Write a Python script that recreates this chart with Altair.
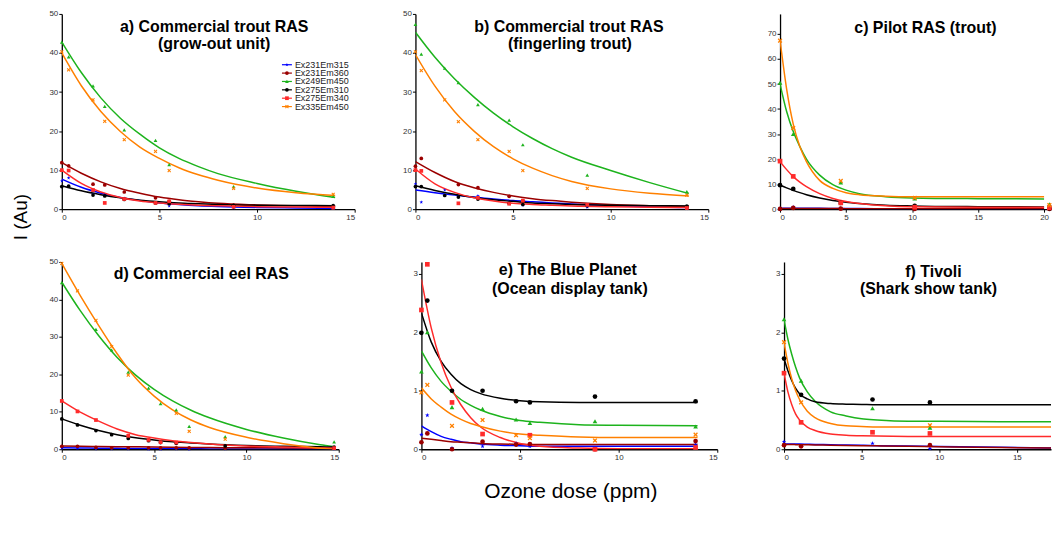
import altair as alt
import pandas as pd

SERIES = ["Ex231Em315", "Ex231Em360", "Ex249Em450", "Ex275Em310", "Ex275Em340", "Ex335Em450"]
COLORS = ["#0000FF", "#9B0000", "#1DB31D", "#000000", "#FF2B2B", "#FF8000"]
STAR = "M0,-1L0.235,-0.324L0.951,-0.309L0.38,0.124L0.588,0.809L0,0.4L-0.588,0.809L-0.38,0.124L-0.951,-0.309L-0.235,-0.324Z"
XMARK = "M-1,-0.6L-0.6,-1L0,-0.4L0.6,-1L1,-0.6L0.4,0L1,0.6L0.6,1L0,0.4L-0.6,1L-1,0.6L-0.4,0Z"
SHAPES = [STAR, "circle", "triangle-up", "circle", "square", XMARK]

# ---------------- a) Commercial trout RAS (grow-out unit)
A_DOSE = [0, 0.35, 1.6, 2.2, 3.2, 4.8, 5.5, 8.8, 13.9]
A_POINTS = {
    "Ex231Em315": [7.2, 8.0, 3.8, 3.7, 2.8, 1.6, 0.8, 0.3, 0.2],
    "Ex231Em360": [11.9, 11.1, 6.4, 6.2, 4.4, 2.9, 2.0, 1.0, 0.7],
    "Ex249Em450": [42.8, 39.0, 31.6, 26.3, 20.3, 17.6, 11.4, 5.8, 3.3],
    "Ex275Em310": [5.8, 5.9, 3.6, 3.4, 2.5, 1.6, 1.4, 1.0, 0.9],
    "Ex275Em340": [10.0, 9.9, 4.9, 1.6, 2.6, 1.6, 2.0, 0.6, 0.4],
    "Ex335Em450": [40.3, 35.7, 28.0, 22.5, 17.8, 14.8, 9.9, 5.3, 3.8],
}
A_FIT_DOSE = [0, 1, 2, 3, 4, 5, 6, 7, 8, 10, 12, 14]
A_FIT = {
    "Ex231Em315": [7.7, 5.6, 4.1, 3.0, 2.2, 1.6, 1.2, 0.9, 0.7, 0.45, 0.3, 0.2],
    "Ex231Em360": [11.9, 9.2, 7.0, 5.3, 4.1, 3.1, 2.4, 1.9, 1.5, 1.1, 0.85, 0.7],
    "Ex249Em450": [42.8, 35.0, 28.5, 23.3, 19.2, 15.7, 13.0, 10.9, 9.1, 6.6, 4.6, 3.0],
    "Ex275Em310": [6.0, 4.7, 3.7, 2.9, 2.3, 1.9, 1.6, 1.4, 1.2, 1.0, 0.95, 0.9],
    "Ex275Em340": [10.0, 6.6, 4.4, 3.0, 2.1, 1.6, 1.25, 1.0, 0.85, 0.65, 0.55, 0.5],
    "Ex335Em450": [40.0, 31.6, 25.0, 19.9, 15.9, 13.0, 10.6, 8.8, 7.4, 5.4, 4.2, 3.5],
}

# ---------------- b) Commercial trout RAS (fingerling trout)
B_DOSE = [0, 0.3, 1.5, 2.2, 3.2, 4.8, 5.5, 8.8, 13.9]
B_POINTS = {
    "Ex231Em315": [6.5, 1.8, 4.9, 3.2, 3.4, 1.5, 1.0, 0.5, 0.1],
    "Ex231Em360": [11.0, 13.0, None, 6.3, 5.5, 3.3, 2.1, 1.1, 0.4],
    "Ex249Em450": [47.3, 39.7, 36.1, 32.4, 26.8, 22.8, 16.5, 8.7, 4.5],
    "Ex275Em310": [5.8, 5.8, 3.5, 3.1, 2.6, 1.5, 1.2, 0.9, 0.8],
    "Ex275Em340": [10.0, 9.8, None, 1.5, 2.9, 1.4, 2.2, 1.1, 0.3],
    "Ex335Em450": [40.3, 35.5, 28.0, 22.4, 17.8, 14.8, 9.9, 5.3, 3.6],
}
B_FIT_DOSE = [0, 1, 2, 3, 4, 5, 6, 7, 8, 10, 12, 14]
B_FIT = {
    "Ex231Em315": [4.9, 4.2, 3.6, 3.1, 2.6, 2.2, 1.9, 1.6, 1.3, 0.9, 0.6, 0.4],
    "Ex231Em360": [12.2, 9.4, 7.1, 5.5, 4.3, 3.4, 2.7, 2.2, 1.8, 1.2, 0.9, 0.7],
    "Ex249Em450": [45.3, 38.9, 33.4, 28.7, 24.6, 21.1, 18.1, 15.5, 13.3, 9.9, 6.8, 4.0],
    "Ex275Em310": [6.0, 4.8, 3.8, 3.0, 2.4, 2.0, 1.6, 1.4, 1.2, 1.0, 0.9, 0.8],
    "Ex275Em340": [10.3, 6.5, 4.3, 2.9, 2.1, 1.5, 1.2, 1.0, 0.8, 0.6, 0.5, 0.4],
    "Ex335Em450": [39.6, 31.5, 25.0, 20.0, 16.0, 12.9, 10.5, 8.6, 7.1, 5.2, 4.1, 3.4],
}

# ---------------- c) Pilot RAS (trout)
C_DOSE = [0, 1.0, 4.6, 10.2, 20.4]
C_POINTS = {
    "Ex231Em315": [0.2, 0.8, 0.3, 0.1, 0.2],
    "Ex231Em360": [0.1, 0.5, 0.2, 0.1, 0.1],
    "Ex249Em450": [50.5, 30.0, 10.7, 4.3, 2.0],
    "Ex275Em310": [9.6, 8.1, 2.5, 1.3, 0.4],
    "Ex275Em340": [19.2, 13.1, 2.5, 0.8, 0.6],
    "Ex335Em450": [67.3, 32.4, 11.3, 4.5, 1.6],
}
C_FIT_DOSE = [0, 0.5, 1, 1.5, 2, 3, 4, 5, 6, 8, 10, 15, 20]
C_FIT = {
    "Ex231Em315": [0.4, 0.4, 0.4, 0.4, 0.4, 0.35, 0.3, 0.3, 0.25, 0.2, 0.2, 0.15, 0.1],
    "Ex231Em360": [0.3, 0.3, 0.3, 0.3, 0.28, 0.26, 0.24, 0.22, 0.2, 0.2, 0.2, 0.2, 0.2],
    "Ex249Em450": [50, 39, 31, 25, 20, 13.6, 9.8, 7.6, 6.2, 5.0, 4.5, 4.2, 4.1],
    "Ex275Em310": [9.6, 8.5, 7.5, 6.6, 5.8, 4.5, 3.5, 2.8, 2.3, 1.6, 1.3, 1.0, 0.9],
    "Ex275Em340": [19, 15.8, 13, 10.8, 9, 6.2, 4.3, 3.1, 2.3, 1.4, 1.0, 0.8, 0.8],
    "Ex335Em450": [67.5, 48, 34, 25, 19, 11.5, 8.3, 6.6, 5.8, 5.2, 5.0, 5.0, 5.0],
}

# ---------------- d) Commercial eel RAS
D_DOSE = [0, 0.85, 1.85, 2.7, 3.6, 4.7, 5.35, 6.2, 6.9, 8.85, 14.75]
D_POINTS = {
    "Ex231Em315": [0.3, 0.2, 0.1, 0.1, 0.1, 0.0, 0.0, 0.1, 0.0, 0.1, 0.1],
    "Ex231Em360": [0.8, 0.8, 0.5, 0.4, 0.4, 0.4, 0.4, 0.4, 0.4, 0.3, 0.3],
    "Ex249Em450": [44.5, None, 32.0, 26.5, 20.6, 16.3, 12.2, 10.5, 6.1, 3.4, 2.0],
    "Ex275Em310": [8.1, 6.5, 5.0, 3.9, 2.9, 2.3, 1.8, 1.6, None, 0.9, 0.6],
    "Ex275Em340": [12.9, 10.1, 7.8, None, 3.6, 2.5, 1.9, 1.8, None, None, 0.3],
    "Ex335Em450": [49.6, 42.3, 34.4, 27.4, 19.8, None, None, 9.6, 4.8, 2.7, None],
}
D_FIT_DOSE = [0, 1, 2, 3, 4, 5, 6, 7, 8, 10, 12, 14, 14.7]
D_FIT = {
    "Ex231Em315": [0.4, 0.35, 0.3, 0.25, 0.2, 0.2, 0.15, 0.15, 0.1, 0.1, 0.1, 0.1, 0.1],
    "Ex231Em360": [0.9, 0.8, 0.75, 0.7, 0.65, 0.6, 0.55, 0.5, 0.45, 0.4, 0.35, 0.3, 0.3],
    "Ex249Em450": [44.6, 37.0, 30.3, 24.5, 19.8, 16.0, 12.9, 10.4, 8.4, 5.3, 3.0, 1.2, 0.7],
    "Ex275Em310": [8.1, 6.4, 5.0, 3.9, 3.1, 2.5, 2.0, 1.7, 1.4, 1.0, 0.8, 0.65, 0.6],
    "Ex275Em340": [12.9, 9.9, 7.5, 5.4, 3.9, 3.0, 2.3, 1.8, 1.4, 0.9, 0.6, 0.35, 0.3],
    "Ex335Em450": [49.6, 41.0, 33.0, 25.5, 19.0, 14.2, 10.5, 7.8, 5.8, 3.2, 1.5, 0.3, 0.0],
}

# ---------------- e) The Blue Planet (Ocean display tank)
E_DOSE = [0, 0.3, 1.55, 3.1, 4.8, 5.5, 8.8, 13.9]
E_POINTS = {
    "Ex231Em315": [0.25, 0.58, 0.02, 0.05, 0.10, 0.05, 0.02, 0.08],
    "Ex231Em360": [0.12, 0.27, 0.0, 0.13, 0.08, 0.09, 0.0, 0.14],
    "Ex249Em450": [1.33, 2.0, 0.72, 0.69, 0.51, 0.45, 0.48, 0.39],
    "Ex275Em310": [1.99, 2.54, 1.0, 1.0, 0.82, 0.80, 0.9, 0.82],
    "Ex275Em340": [2.38, 3.16, 0.80, 0.26, None, 0.24, 0.0, 0.03],
    "Ex335Em450": [0.97, 1.1, 0.40, 0.50, 0.24, 0.19, 0.15, 0.25],
}
E_FIT_DOSE = [0, 0.5, 1, 1.5, 2, 2.5, 3, 4, 5, 6, 8, 10, 14]
E_FIT = {
    "Ex231Em315": [0.4, 0.3, 0.22, 0.17, 0.13, 0.11, 0.09, 0.07, 0.06, 0.05, 0.05, 0.05, 0.05],
    "Ex231Em360": [0.19, 0.17, 0.15, 0.13, 0.12, 0.11, 0.1, 0.09, 0.085, 0.08, 0.08, 0.08, 0.08],
    "Ex249Em450": [1.68, 1.39, 1.16, 0.99, 0.85, 0.75, 0.67, 0.56, 0.49, 0.46, 0.42, 0.41, 0.4],
    "Ex275Em310": [2.33, 1.83, 1.5, 1.28, 1.12, 1.02, 0.95, 0.87, 0.83, 0.81, 0.8, 0.8, 0.8],
    "Ex275Em340": [2.9, 2.07, 1.48, 1.06, 0.76, 0.54, 0.38, 0.2, 0.1, 0.05, 0.02, 0.01, 0.01],
    "Ex335Em450": [1.05, 0.86, 0.72, 0.6, 0.51, 0.44, 0.39, 0.31, 0.26, 0.24, 0.21, 0.2, 0.2],
}

# ---------------- f) Tivoli (Shark show tank)
F_DOSE = [0, 1.1, 5.7, 9.4]
F_POINTS = {
    "Ex231Em315": [0.13, None, 0.10, 0.01],
    "Ex231Em360": [0.07, 0.05, None, 0.07],
    "Ex249Em450": [2.22, 1.17, 0.70, 0.37],
    "Ex275Em310": [1.55, 0.93, 0.85, 0.80],
    "Ex275Em340": [1.30, 0.46, 0.29, 0.27],
    "Ex335Em450": [1.83, 0.80, None, 0.41],
}
F_FIT_DOSE = [0, 0.25, 0.5, 0.75, 1, 1.5, 2, 3, 4, 5, 6, 8, 10, 14, 17.2]
F_FIT = {
    "Ex231Em315": [0.09, 0.09, 0.09, 0.09, 0.088, 0.085, 0.082, 0.077, 0.072, 0.067, 0.062, 0.055, 0.047, 0.033, 0.02],
    "Ex231Em360": [0.08, 0.08, 0.08, 0.079, 0.078, 0.076, 0.074, 0.07, 0.066, 0.062, 0.058, 0.05, 0.043, 0.03, 0.02],
    "Ex249Em450": [2.22, 1.88, 1.62, 1.40, 1.22, 0.98, 0.82, 0.64, 0.57, 0.52, 0.5, 0.48, 0.48, 0.47, 0.47],
    "Ex275Em310": [1.55, 1.34, 1.17, 1.04, 0.95, 0.86, 0.81, 0.78, 0.77, 0.765, 0.76, 0.76, 0.76, 0.76, 0.76],
    "Ex275Em340": [1.3, 0.98, 0.76, 0.6, 0.5, 0.38, 0.32, 0.26, 0.24, 0.23, 0.225, 0.22, 0.22, 0.22, 0.22],
    "Ex335Em450": [1.82, 1.47, 1.2, 1.0, 0.85, 0.65, 0.54, 0.44, 0.4, 0.39, 0.38, 0.38, 0.38, 0.38, 0.38],
}

FONT = "Liberation Sans"
COLOR = alt.Color("series:N", scale=alt.Scale(domain=SERIES, range=COLORS), legend=None)
SHAPE = alt.Shape("series:N", scale=alt.Scale(domain=SERIES, range=SHAPES), legend=None)


def long_df(xs, series_dict):
    rows = []
    for s, ys in series_dict.items():
        for x, y in zip(xs, ys):
            if y is not None:
                rows.append({"series": s, "x": x, "y": y})
    return pd.DataFrame(rows)


def text_layer(txt, px, py, size=16, bold=True, angle=0):
    kw = dict(font=FONT, fontSize=size, fontWeight="bold" if bold else "normal",
              align="center", baseline="middle", color="#000000")
    if angle:
        kw["angle"] = angle
    return alt.Chart(pd.DataFrame({"t": [txt]})).mark_text(**kw).encode(
        text="t:N", x=alt.value(px), y=alt.value(py))


def make_panel(dose, points, fit_dose, fits, xdom, xticks, ydom, yticks, titles, psize):
    X = alt.X("x:Q", scale=alt.Scale(domain=xdom, nice=False, zero=False),
              axis=alt.Axis(values=xticks, title=None, format="d"))
    Y = alt.Y("y:Q", scale=alt.Scale(domain=ydom, nice=False, zero=False),
              axis=alt.Axis(values=yticks, title=None, format="d"))
    lines = alt.Chart(long_df(fit_dose, fits)).mark_line(
        strokeWidth=1.5, interpolate="monotone", clip=True).encode(
        x=X, y=Y, color=COLOR, detail="series:N")
    pts = alt.Chart(long_df(dose, points)).mark_point(
        filled=True, size=psize, opacity=1).encode(x=X, y=Y, color=COLOR, shape=SHAPE)
    return [lines, pts] + [text_layer(t, px, py) for t, px, py in titles]


# a) with legend and the shared y title
a_layers = make_panel(A_DOSE, A_POINTS, A_FIT_DOSE, A_FIT, [0, 15], [0, 5, 10, 15],
                      [0, 50], [0, 10, 20, 30, 40, 50],
                      [("a) Commercial trout RAS", 153, 13), ("(grow-out unit)", 153, 30)], 14)
a_layers.append(text_layer("I (Au)", -41, 204, size=19, bold=False, angle=270))
leg_df = pd.DataFrame({"series": SERIES})
LEG_Y = alt.Y("series:N", scale=alt.Scale(type="point", domain=SERIES, range=[51, 93], padding=0), axis=None)
leg_rule = alt.Chart(leg_df).mark_rule(strokeWidth=1.2).encode(
    x=alt.value(221), x2=alt.value(231), y=LEG_Y, color=COLOR)
leg_pt = alt.Chart(leg_df).mark_point(filled=True, size=14, opacity=1).encode(
    x=alt.value(226), y=LEG_Y, color=COLOR, shape=SHAPE)
leg_txt = alt.Chart(leg_df).mark_text(font=FONT, fontSize=9, align="left", baseline="middle",
                                      color="#222222").encode(
    x=alt.value(234), y=LEG_Y, text="series:N")
pa = alt.layer(alt.layer(*a_layers), alt.layer(leg_rule, leg_pt, leg_txt)).resolve_scale(
    y="independent").properties(width=294, height=196)

pb = alt.layer(*make_panel(B_DOSE, B_POINTS, B_FIT_DOSE, B_FIT, [0, 15], [0, 5, 10, 15],
                           [0, 50], [0, 10, 20, 30, 40, 50],
                           [("b) Commercial trout RAS", 154, 13), ("(fingerling trout)", 155, 30)],
                           14)).properties(width=294, height=196)

pc = alt.layer(*make_panel(C_DOSE, C_POINTS, C_FIT_DOSE, C_FIT, [0, 20.6], [0, 5, 10, 15, 20],
                           [0, 78], [0, 10, 20, 30, 40, 50, 60, 70],
                           [("c) Pilot RAS (trout)", 146, 14)], 22)).properties(width=273, height=196)

pd_ = alt.layer(*make_panel(D_DOSE, D_POINTS, D_FIT_DOSE, D_FIT, [0, 15], [0, 5, 10, 15],
                            [0, 50], [0, 10, 20, 30, 40, 50],
                            [("d) Commercial eel RAS", 140, 12)], 14)).properties(width=278, height=188)

e_layers = make_panel(E_DOSE, E_POINTS, E_FIT_DOSE, E_FIT, [0, 15], [0, 5, 10, 15],
                      [0, 3.2], [0, 1, 2, 3],
                      [("e) The  Blue Planet", 147, 8), ("(Ocean display tank)", 149, 27)], 22)
e_layers.append(text_layer("Ozone dose (ppm)", 150, 231, size=21, bold=False))
pe = alt.layer(*e_layers).properties(width=297, height=188)

pf = alt.layer(*make_panel(F_DOSE, F_POINTS, F_FIT_DOSE, F_FIT, [0, 17.2], [0, 5, 10, 15],
                           [0, 3.2], [0, 1, 2, 3],
                           [("f) Tivoli", 150, 10), ("(Shark show tank)", 145, 27)], 22)).properties(width=268, height=188)

row1 = alt.hconcat(alt.hconcat(pa, pb, spacing=61, bounds="flush"), pc, spacing=58)
row2 = alt.hconcat(alt.hconcat(pd_, pe, spacing=83, bounds="flush"), pf, spacing=57)

chart = alt.vconcat(row1, row2, spacing=17).properties(
    padding={"left": 4, "top": 1, "right": 0, "bottom": 0}
).configure_view(stroke=None).configure_axis(
    domainColor="#000000", domainWidth=1.3, tickColor="#000000", tickSize=3, tickWidth=1,
    labelFont=FONT, labelFontSize=8, labelColor="#333333", grid=False, labelPadding=1
)

chart.save("out.html", embed_options={"renderer": "svg", "actions": False})
